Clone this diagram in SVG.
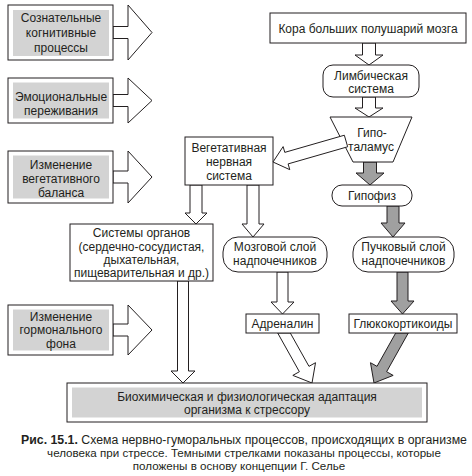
<svg xmlns="http://www.w3.org/2000/svg" width="472" height="476" viewBox="0 0 472 476">
<style>
text{font-family:"Liberation Sans",Arial,sans-serif;font-size:12px;fill:#231f20;text-anchor:middle}
.cap{font-size:11.6px}
.cap1{font-size:12.3px}
.b{fill:#fff;stroke:#231f20;stroke-width:1}
.g{fill:#d3d3d3;stroke:none}
.ha{fill:#fff;stroke:#231f20;stroke-width:1;stroke-linejoin:miter}
.da{fill:#a0a0a0;stroke:#231f20;stroke-width:1;stroke-linejoin:miter}
</style>
<rect width="472" height="476" fill="#fff"/>
<g id="connectors">
<polygon class="ha" points="113,26.5 128,26.5 128,5 152,32.5 128,60 128,38.5 113,38.5"/>
<polygon class="ha" points="113,94.5 128,94.5 128,78 152,100.5 128,123 128,106.5 113,106.5"/>
<polygon class="ha" points="113,171 128,171 128,151 152,177 128,203 128,183 113,183"/>
<polygon class="ha" points="113,324 128,324 128,305 152,330 128,355 128,336 113,336"/>
<polygon class="ha" points="362.5,43 362.5,55 355,55 369,65 383,55 375.5,55 375.5,43"/>
<polygon class="ha" points="362.5,97 362.5,108 355,108 369,117 383,108 375.5,108 375.5,97"/>
<polygon class="da" points="363.5,162 363.5,173 356,173 370,185 384,173 376.5,173 376.5,162"/>
<polygon class="ha" points="190,185 190,213 185,213 196,224 207,213 202,213 202,185"/>
<polygon class="ha" points="247,185 247,224 242,224 253,237 264,224 259,224 259,185"/>
<polygon class="da" points="387,206 387,223 381,223 393,237 405,223 399,223 399,206"/>
<polygon class="ha" points="277,272 277,302 271,302 282.5,314 294,302 288,302 288,272"/>
<polygon class="da" points="397,272 397,301 391,301 402.5,314 414,301 408,301 408,272"/>
<polygon class="ha" points="177.5,281 177.5,371 171,371 183,383 195,371 188.5,371 188.5,281"/>
<polygon class="ha" points="277.7,333 299.38,371.73 292.84,375.39 312,383 315.52,362.69 308.98,366.35 290.3,333"/>
<polygon class="da" points="408.3,333 386.62,371.73 393.16,375.39 374,383 370.48,362.69 377.02,366.35 395.7,333"/>
</g>
<g id="n-cognitive"><rect class="b" x="8" y="5" width="105" height="55"/><rect class="g" x="13" y="10" width="96" height="46"/>
<text x="61" y="22">Сознательные</text><text x="61" y="37">когнитивные</text><text x="61" y="52">процессы</text></g>
<g id="n-emotional"><rect class="b" x="8" y="78" width="105" height="45"/><rect class="g" x="13" y="82.5" width="96" height="36"/>
<text x="61" y="101">Эмоциональные</text><text x="61" y="115">переживания</text></g>
<g id="n-vegbalance"><rect class="b" x="8" y="151" width="105" height="52"/><rect class="g" x="13" y="155.5" width="96" height="43"/>
<text x="61" y="169">Изменение</text><text x="61" y="183">вегетативного</text><text x="61" y="197">баланса</text></g>
<g id="n-hormonal"><rect class="b" x="8" y="305" width="105" height="50"/><rect class="g" x="13" y="309.5" width="96" height="41"/>
<text x="61" y="321">Изменение</text><text x="61" y="334">гормонального</text><text x="61" y="348">фона</text></g>
<g id="n-cortex"><rect class="b" x="270" y="13" width="196" height="30"/><text x="368" y="32.5">Кора больших полушарий мозга</text></g>
<g id="n-limbic"><rect class="b" x="323" y="65" width="96" height="32" rx="10"/><text x="371" y="80">Лимбическая</text><text x="371" y="93">система</text></g>
<g id="n-hypothalamus"><polygon class="b" points="330,117 412,117 393,162 353,162"/><text x="372" y="137">Гипо-</text><text x="371" y="151">таламус</text></g>
<g id="n-vns"><rect class="b" x="185" y="137" width="88" height="48"/><text x="229" y="152">Вегетативная</text><text x="229" y="166">нервная</text><text x="229" y="180">система</text></g>
<g id="n-pituitary"><rect class="b" x="332" y="185" width="80" height="21" rx="10"/><text x="372" y="200">Гипофиз</text></g>
<g id="n-organs"><rect class="b" x="70" y="224" width="143" height="57"/><text x="141.5" y="237">Системы органов</text><text x="141.5" y="251">(сердечно-сосудистая,</text><text x="141.5" y="264">дыхательная,</text><text x="141.5" y="277">пищеварительная и др.)</text></g>
<g id="n-medulla"><rect class="b" x="223" y="237" width="104" height="35" rx="15"/><text x="275" y="251">Мозговой слой</text><text x="275" y="265">надпочечников</text></g>
<g id="n-fasciculata"><rect class="b" x="353" y="237" width="101" height="35" rx="15"/><text x="403.5" y="251">Пучковый слой</text><text x="403.5" y="265">надпочечников</text></g>
<g id="n-adrenaline"><rect class="b" x="246" y="314" width="73" height="19"/><text x="282.5" y="328">Адреналин</text></g>
<g id="n-gluco"><rect class="b" x="349" y="314" width="108" height="19"/><text x="403" y="328">Глюкокортикоиды</text></g>
<g id="connector-hypo-vns"><polygon class="ha" points="344.34,135.23 284.79,152.36 283.13,146.6 273,162 289.77,169.66 288.11,163.9 347.66,146.77"/></g>
<g id="n-adaptation"><rect class="b" x="67" y="383" width="360" height="39"/><rect class="g" x="72" y="387.5" width="350" height="30"/>
<text x="247" y="401">Биохимическая и физиологическая адаптация</text><text x="247" y="414">организма к стрессору</text></g>
<g id="caption">
<text class="cap1" x="244" y="444"><tspan font-weight="bold">Рис. 15.1.</tspan> Схема нервно-гуморальных процессов, происходящих в организме</text>
<text class="cap" x="244" y="457">человека при стрессе. Темными стрелками показаны процессы, которые</text>
<text class="cap" x="239" y="470">положены в основу концепции Г. Селье</text>
</g>
</svg>
